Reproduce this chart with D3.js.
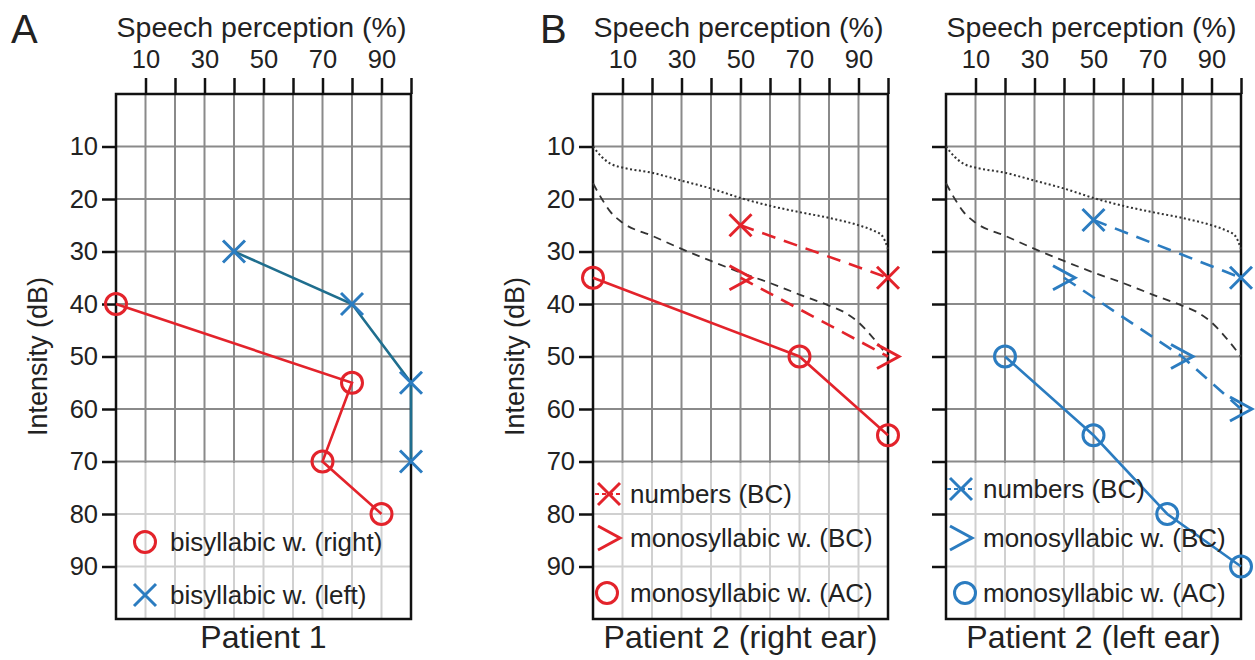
<!DOCTYPE html>
<html>
<head>
<meta charset="utf-8">
<script src="https://cdn.jsdelivr.net/npm/d3@7"></script>
<style>
  body { margin: 0; background: #fff; }
  text { font-family: "Liberation Sans", Arial, sans-serif; fill: #222; }
</style>
</head>
<body>
<div id="chart"></div>
<script>
// tick values
var pctTicks = [10, 20, 30, 40, 50, 60, 70, 80, 90, 100],
  pctLabels = [10, 30, 50, 70, 90],
  dbTicks = [10, 20, 30, 40, 50, 60, 70, 80, 90];

// patient 1
var p1RightPct = [0, 80, 70, 90],
  p1RightDb = [40, 55, 70, 80],
  p1LeftPct = [40, 80, 100, 100],
  p1LeftDb = [30, 40, 55, 70];

// patient 2, right ear
var p2rNumPct = [50, 100], p2rNumDb = [25, 35],
  p2rMonoBcPct = [50, 100], p2rMonoBcDb = [35, 50],
  p2rMonoAcPct = [0, 70, 100], p2rMonoAcDb = [35, 50, 65];

// patient 2, left ear
var p2lNumPct = [50, 100], p2lNumDb = [24, 35],
  p2lMonoBcPct = [40, 80, 100], p2lMonoBcDb = [35, 50, 60],
  p2lMonoAcPct = [20, 50, 75, 100], p2lMonoAcDb = [50, 65, 80, 90];

// normal reference curves (numbers dotted, monosyllabic dashed)
var normNumPct = [0, 3, 6, 10, 20, 30, 40, 50, 60, 70, 80, 90, 95, 98, 100],
  normNumDb = [10, 12, 13.3, 14, 15, 16.5, 18, 19.8, 21.3, 22.5, 23.6, 25, 26, 27, 29.5],
  normMonoPct = [0, 3, 6, 10, 20, 30, 40, 50, 60, 70, 80, 85, 90, 95, 100],
  normMonoDb = [17, 20, 22.5, 24.5, 27, 29.5, 31.8, 34, 36, 38.2, 40.3, 41.5, 43.5, 46.5, 50];

var red = "#e3232b", blue = "#2b7cc0", teal = "#1f6e8e";

var svg = d3.select("#chart")
  .append("svg")
  .attr("width", 1255)
  .attr("height", 660);

svg.append("rect").attr("width", 1255).attr("height", 660).attr("fill", "#fff");

var top0 = 94, bottom0 = 619, plotW = 295;

var markers = {
  circle: function(g) { g.append("circle").attr("r", 10.5); },
  cross: function(g) { g.append("path").attr("d", "M-11,-11L11,11M-11,11L11,-11"); },
  chevron: function(g) { g.append("path").attr("d", "M-11,-12L11,0L-11,12"); }
};

function zip(a, b) {
  return a.map(function(v, i) { return [v, b[i]]; });
}

function drawPanel(p) {
  var x = d3.scaleLinear().domain([0, 100]).range([p.left, p.left + plotW]);
  var y = d3.scaleLinear().domain([0, 100]).range([top0, bottom0]);
  var g = svg.append("g");

  // grid
  g.append("g").selectAll("line").data(pctTicks.slice(0, 9)).enter().append("line")
    .attr("x1", function(d) { return x(d); }).attr("x2", function(d) { return x(d); })
    .attr("y1", top0).attr("y2", bottom0)
    .attr("stroke", "#8a8a8a").attr("stroke-width", 2);
  g.append("g").selectAll("line").data(dbTicks).enter().append("line")
    .attr("x1", x(0)).attr("x2", x(100))
    .attr("y1", function(d) { return y(d); }).attr("y2", function(d) { return y(d); })
    .attr("stroke", "#8a8a8a").attr("stroke-width", 2);

  // legend background
  g.append("rect")
    .attr("x", x(0)).attr("y", y(70) + 1.5)
    .attr("width", plotW).attr("height", y(100) - y(70) - 1.5)
    .attr("fill", "#fff").attr("opacity", 0.6);

  // axes
  var axTop = d3.axisTop(x).tickValues(pctTicks).tickSize(16).tickPadding(10)
    .tickFormat(function(d) { return pctLabels.indexOf(d) >= 0 ? d : ""; });
  var gx = g.append("g").attr("transform", "translate(0," + top0 + ")").call(axTop);
  var axLeft = d3.axisLeft(y).tickValues(dbTicks).tickSize(14).tickPadding(4)
    .tickFormat(p.yLabels ? d3.format("d") : function() { return ""; });
  var gy = g.append("g").attr("transform", "translate(" + x(0) + ",0)").call(axLeft);
  [gx, gy].forEach(function(a) {
    a.select(".domain").remove();
    a.selectAll(".tick line").attr("stroke", "#111").attr("stroke-width", 2.5);
    a.selectAll(".tick text").attr("font-size", 25.5).style("font-family", "'Liberation Sans', Arial, sans-serif").attr("fill", "#222");
  });

  // frame
  g.append("rect")
    .attr("x", x(0)).attr("y", top0)
    .attr("width", plotW).attr("height", bottom0 - top0)
    .attr("fill", "none").attr("stroke", "#111").attr("stroke-width", 2.5);

  // titles
  g.append("text").attr("x", x(50) - 2).attr("y", 37).attr("text-anchor", "middle")
    .attr("font-size", 28.5).text("Speech perception (%)");
  g.append("text").attr("x", x(50)).attr("y", 648).attr("text-anchor", "middle")
    .attr("font-size", 32).text(p.title);
  if (p.letter) {
    g.append("text").attr("x", p.letterX).attr("y", 43)
      .attr("font-size", 40).text(p.letter);
  }
  if (p.yLabels) {
    g.append("text")
      .attr("transform", "translate(" + (x(0) - 69) + "," + y(50) + ") rotate(-90)")
      .attr("text-anchor", "middle").attr("font-size", 27).text("Intensity (dB)");
  }

  var line = d3.line()
    .x(function(d) { return x(d[0]); })
    .y(function(d) { return y(d[1]); });
  var smooth = d3.line()
    .x(function(d) { return x(d[0]); })
    .y(function(d) { return y(d[1]); })
    .curve(d3.curveMonotoneX);

  // normal curves
  (p.norms || []).forEach(function(n) {
    g.append("path").attr("d", smooth(zip(n.pct, n.db)))
      .attr("fill", "none").attr("stroke", "#333")
      .attr("stroke-width", n.width).attr("stroke-dasharray", n.dash);
  });

  // series
  p.series.forEach(function(s) {
    var pts = zip(s.pct, s.db);
    g.append("path").attr("d", line(pts))
      .attr("fill", "none").attr("stroke", s.lineColor || s.color)
      .attr("stroke-width", 2.6)
      .attr("stroke-dasharray", s.dashed ? "14,9" : null);
    pts.forEach(function(d) {
      var m = g.append("g")
        .attr("transform", "translate(" + x(d[0]) + "," + y(d[1]) + ")")
        .attr("fill", "none").attr("stroke", s.color).attr("stroke-width", 3);
      markers[s.marker](m);
    });
  });

  // legend
  p.legend.forEach(function(l) {
    var lg = g.append("g")
      .attr("transform", "translate(" + l.mx + "," + l.my + ")")
      .attr("fill", "none").attr("stroke", l.color).attr("stroke-width", 3);
    if (l.seg) {
      lg.append("line").attr("x1", -14).attr("x2", 14)
        .attr("stroke-width", 2).attr("stroke-dasharray", "4,3");
    }
    markers[l.marker](lg);
    g.append("text").attr("x", l.tx).attr("y", l.my + 9)
      .attr("font-size", 26).attr("fill", "#333").text(l.label);
  });
}

var norms = [
  { pct: normNumPct, db: normNumDb, dash: "2,2.5", width: 2 },
  { pct: normMonoPct, db: normMonoDb, dash: "8,6", width: 1.8 }
];

drawPanel({
  left: 116, yLabels: true, letter: "A", letterX: 11, title: "Patient 1",
  series: [
    { pct: p1LeftPct, db: p1LeftDb, color: blue, lineColor: teal, marker: "cross" },
    { pct: p1RightPct, db: p1RightDb, color: red, marker: "circle" }
  ],
  legend: [
    { marker: "circle", color: red, mx: 145, my: 542, tx: 170, label: "bisyllabic w. (right)" },
    { marker: "cross", color: blue, mx: 145, my: 595, tx: 170, label: "bisyllabic w. (left)" }
  ]
});

drawPanel({
  left: 593, yLabels: true, letter: "B", letterX: 540, title: "Patient 2 (right ear)",
  norms: norms,
  series: [
    { pct: p2rNumPct, db: p2rNumDb, color: red, marker: "cross", dashed: true },
    { pct: p2rMonoBcPct, db: p2rMonoBcDb, color: red, marker: "chevron", dashed: true },
    { pct: p2rMonoAcPct, db: p2rMonoAcDb, color: red, marker: "circle" }
  ],
  legend: [
    { marker: "cross", seg: true, color: red, mx: 609, my: 494, tx: 630, label: "numbers (BC)" },
    { marker: "chevron", color: red, mx: 609, my: 538, tx: 630, label: "monosyllabic w. (BC)" },
    { marker: "circle", color: red, mx: 607, my: 593, tx: 630, label: "monosyllabic w. (AC)" }
  ]
});

drawPanel({
  left: 946, yLabels: false, title: "Patient 2 (left ear)",
  norms: norms,
  series: [
    { pct: p2lNumPct, db: p2lNumDb, color: blue, marker: "cross", dashed: true },
    { pct: p2lMonoBcPct, db: p2lMonoBcDb, color: blue, marker: "chevron", dashed: true },
    { pct: p2lMonoAcPct, db: p2lMonoAcDb, color: blue, marker: "circle" }
  ],
  legend: [
    { marker: "cross", seg: true, color: blue, mx: 961, my: 489, tx: 983, label: "numbers (BC)" },
    { marker: "chevron", color: blue, mx: 961, my: 538, tx: 983, label: "monosyllabic w. (BC)" },
    { marker: "circle", color: blue, mx: 965, my: 593, tx: 983, label: "monosyllabic w. (AC)" }
  ]
});
</script>
</body>
</html>
